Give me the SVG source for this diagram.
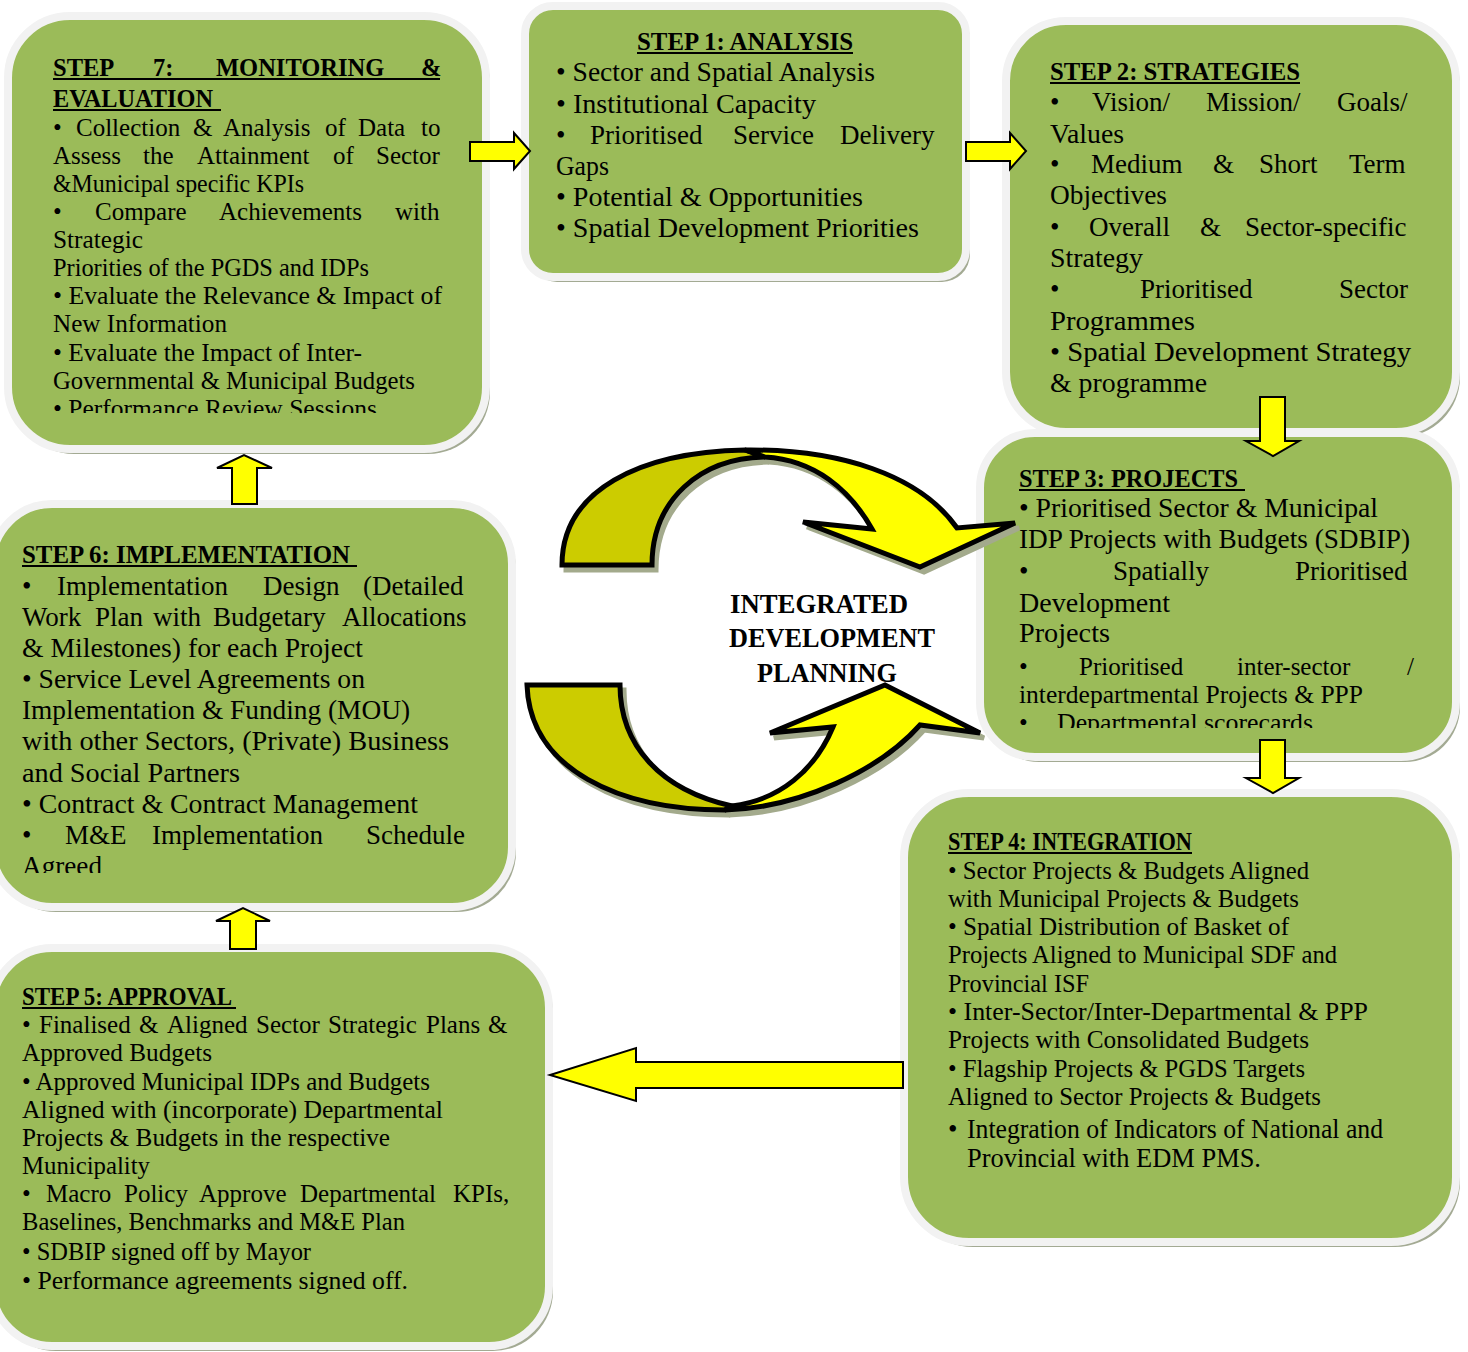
<svg xmlns="http://www.w3.org/2000/svg" width="1468" height="1352" viewBox="0 0 1468 1352">
<style>
.shadow{fill:#a3aa93}
.box{fill:#9bbb59;stroke:#f2f2f2;stroke-width:8}
text{font-family:"Liberation Serif","Times New Roman",serif;fill:#000}
.s27{font-size:27px}
.s25{font-size:25px}
.h{font-size:24.5px;font-weight:bold}
.c{font-size:27px;font-weight:bold}
.ul{stroke:#000;stroke-width:1.8}
.arrow{fill:#ffff00;stroke:#000;stroke-width:2;stroke-linejoin:miter}
.cyc{stroke:#000;stroke-width:5;stroke-linejoin:miter}
.cshadow{fill:#a3aa8c;stroke:#a3aa8c;stroke-width:5;stroke-linejoin:miter}
</style>
<defs>
<clipPath id="clip7"><rect x="0" y="0" width="500" height="413"/></clipPath>
<clipPath id="clip3"><rect x="980" y="430" width="480" height="298"/></clipPath>
<clipPath id="clip6"><rect x="0" y="500" width="520" height="373"/></clipPath>
</defs>

<!-- STEP 7 -->
<g id="step7">
<rect class="shadow" x="12" y="21" width="478" height="433" rx="62"/>
<rect class="box" x="8" y="16" width="478" height="433" rx="62"/>
<text class="h" y="76"><tspan x="53">STEP </tspan><tspan x="153">7: </tspan><tspan x="216">MONITORING </tspan><tspan x="421">&amp;</tspan></text>
<line class="ul" x1="53" y1="79" x2="440" y2="79"/>
<text class="h" x="53" y="107" textLength="160" lengthAdjust="spacingAndGlyphs">EVALUATION</text>
<line class="ul" x1="53" y1="110" x2="221" y2="110"/>
<g clip-path="url(#clip7)" class="s25">
<text class="s25" y="136"><tspan x="53">• </tspan><tspan x="76">Collection </tspan><tspan x="193">&amp; </tspan><tspan x="223">Analysis </tspan><tspan x="325">of </tspan><tspan x="358">Data </tspan><tspan x="421">to</tspan></text>
<text class="s25" y="164"><tspan x="53">Assess </tspan><tspan x="143">the </tspan><tspan x="197">Attainment </tspan><tspan x="333">of </tspan><tspan x="376">Sector</tspan></text>
<text class="s25" x="53" y="192" textLength="251" lengthAdjust="spacingAndGlyphs">&amp;Municipal specific KPIs</text>
<text class="s25" y="220"><tspan x="53">• </tspan><tspan x="95">Compare </tspan><tspan x="219">Achievements </tspan><tspan x="395">with</tspan></text>
<text class="s25" x="53" y="248" textLength="90" lengthAdjust="spacingAndGlyphs">Strategic</text>
<text class="s25" x="53" y="276" textLength="316" lengthAdjust="spacingAndGlyphs">Priorities of the PGDS and IDPs</text>
<text class="s25" x="53" y="304" textLength="389" lengthAdjust="spacingAndGlyphs">• Evaluate the Relevance &amp; Impact of</text>
<text class="s25" x="53" y="332" textLength="174" lengthAdjust="spacingAndGlyphs">New Information</text>
<text class="s25" x="53" y="361" textLength="309" lengthAdjust="spacingAndGlyphs">• Evaluate the Impact of Inter-</text>
<text class="s25" x="53" y="389" textLength="362" lengthAdjust="spacingAndGlyphs">Governmental &amp; Municipal Budgets</text>
<text class="s25" x="53" y="417" textLength="324" lengthAdjust="spacingAndGlyphs">• Performance Review Sessions</text>
</g>
</g>

<!-- STEP 1 -->
<g id="step1">
<rect class="shadow" x="529" y="11" width="441" height="271" rx="28"/>
<rect class="box" x="525" y="6" width="441" height="271" rx="28"/>
<text class="h" x="637" y="50" textLength="216" lengthAdjust="spacingAndGlyphs">STEP 1: ANALYSIS</text>
<line class="ul" x1="637" y1="53" x2="853" y2="53"/>
<text class="s27" x="556" y="81" textLength="319" lengthAdjust="spacingAndGlyphs">• Sector and Spatial Analysis</text>
<text class="s27" x="556" y="113" textLength="260" lengthAdjust="spacingAndGlyphs">• Institutional Capacity</text>
<text class="s27" y="144"><tspan x="556">• </tspan><tspan x="590">Prioritised </tspan><tspan x="733">Service </tspan><tspan x="840">Delivery</tspan></text>
<text class="s27" x="556" y="175" textLength="53" lengthAdjust="spacingAndGlyphs">Gaps</text>
<text class="s27" x="556" y="206" textLength="307" lengthAdjust="spacingAndGlyphs">• Potential &amp; Opportunities</text>
<text class="s27" x="556" y="237" textLength="363" lengthAdjust="spacingAndGlyphs">• Spatial Development Priorities</text>
</g>

<!-- STEP 2 -->
<g id="step2">
<rect class="shadow" x="1010" y="26" width="450" height="411" rx="60"/>
<rect class="box" x="1006" y="21" width="450" height="411" rx="60"/>
<text class="h" x="1050" y="80" textLength="250" lengthAdjust="spacingAndGlyphs">STEP 2: STRATEGIES</text>
<line class="ul" x1="1050" y1="83" x2="1300" y2="83"/>
<text class="s27" y="111"><tspan x="1050">• </tspan><tspan x="1092">Vision/ </tspan><tspan x="1206">Mission/ </tspan><tspan x="1337">Goals/</tspan></text>
<text class="s27" x="1050" y="143" textLength="74" lengthAdjust="spacingAndGlyphs">Values</text>
<text class="s27" y="173"><tspan x="1050">• </tspan><tspan x="1091">Medium </tspan><tspan x="1213">&amp; </tspan><tspan x="1259">Short </tspan><tspan x="1349">Term</tspan></text>
<text class="s27" x="1050" y="204" textLength="117" lengthAdjust="spacingAndGlyphs">Objectives</text>
<text class="s27" y="236"><tspan x="1050">• </tspan><tspan x="1089">Overall </tspan><tspan x="1200">&amp; </tspan><tspan x="1245">Sector-specific</tspan></text>
<text class="s27" x="1050" y="267" textLength="93" lengthAdjust="spacingAndGlyphs">Strategy</text>
<text class="s27" y="298"><tspan x="1050">• </tspan><tspan x="1140">Prioritised </tspan><tspan x="1339">Sector</tspan></text>
<text class="s27" x="1050" y="330" textLength="145" lengthAdjust="spacingAndGlyphs">Programmes</text>
<text class="s27" x="1050" y="361" textLength="361" lengthAdjust="spacingAndGlyphs">• Spatial Development Strategy</text>
<text class="s27" x="1050" y="392" textLength="157" lengthAdjust="spacingAndGlyphs">&amp; programme</text>
</g>

<!-- STEP 3 -->
<g id="step3">
<rect class="shadow" x="984" y="438" width="476" height="324" rx="55"/>
<rect class="box" x="980" y="433" width="476" height="324" rx="55"/>
<text class="h" x="1019" y="487" textLength="219" lengthAdjust="spacingAndGlyphs">STEP 3: PROJECTS</text>
<line class="ul" x1="1019" y1="490" x2="1245" y2="490"/>
<g clip-path="url(#clip3)">
<text class="s27" x="1019" y="517" textLength="359" lengthAdjust="spacingAndGlyphs">• Prioritised Sector &amp; Municipal</text>
<text class="s27" x="1019" y="548" textLength="391" lengthAdjust="spacingAndGlyphs">IDP Projects with Budgets (SDBIP)</text>
<text class="s27" y="580"><tspan x="1019">• </tspan><tspan x="1113">Spatially </tspan><tspan x="1295">Prioritised</tspan></text>
<text class="s27" x="1019" y="612" textLength="151" lengthAdjust="spacingAndGlyphs">Development</text>
<text class="s27" x="1019" y="642" textLength="91" lengthAdjust="spacingAndGlyphs">Projects</text>
<text class="s25" y="675"><tspan x="1019">• </tspan><tspan x="1079">Prioritised </tspan><tspan x="1237">inter-sector </tspan><tspan x="1407">/</tspan></text>
<text class="s25" x="1019" y="703" textLength="344" lengthAdjust="spacingAndGlyphs">interdepartmental Projects &amp; PPP</text>
<text class="s25" y="731"><tspan x="1019">• </tspan><tspan x="1057" textLength="256" lengthAdjust="spacingAndGlyphs">Departmental scorecards</tspan></text>
</g>
</g>

<!-- STEP 4 -->
<g id="step4">
<rect class="shadow" x="908" y="798" width="552" height="449" rx="65"/>
<rect class="box" x="904" y="793" width="552" height="449" rx="65"/>
<text class="h" x="948" y="850" textLength="244" lengthAdjust="spacingAndGlyphs">STEP 4: INTEGRATION</text>
<line class="ul" x1="948" y1="853" x2="1192" y2="853"/>
<text class="s25" x="948" y="879" textLength="361" lengthAdjust="spacingAndGlyphs">• Sector Projects &amp; Budgets Aligned</text>
<text class="s25" x="948" y="907" textLength="351" lengthAdjust="spacingAndGlyphs">with Municipal Projects &amp; Budgets</text>
<text class="s25" x="948" y="935" textLength="341" lengthAdjust="spacingAndGlyphs">• Spatial Distribution of Basket of</text>
<text class="s25" x="948" y="963" textLength="389" lengthAdjust="spacingAndGlyphs">Projects Aligned to Municipal SDF and</text>
<text class="s25" x="948" y="992" textLength="141" lengthAdjust="spacingAndGlyphs">Provincial ISF</text>
<text class="s25" x="948" y="1020" textLength="420" lengthAdjust="spacingAndGlyphs">• Inter-Sector/Inter-Departmental &amp; PPP</text>
<text class="s25" x="948" y="1048" textLength="361" lengthAdjust="spacingAndGlyphs">Projects with Consolidated Budgets</text>
<text class="s25" x="948" y="1077" textLength="357" lengthAdjust="spacingAndGlyphs">• Flagship Projects &amp; PGDS Targets</text>
<text class="s25" x="948" y="1105" textLength="373" lengthAdjust="spacingAndGlyphs">Aligned to Sector Projects &amp; Budgets</text>
<text class="s27" y="1138"><tspan x="948">• </tspan><tspan x="967" textLength="416" lengthAdjust="spacingAndGlyphs">Integration of Indicators of National and</tspan></text>
<text class="s27" x="967" y="1167" textLength="294" lengthAdjust="spacingAndGlyphs">Provincial with EDM PMS.</text>
</g>

<!-- STEP 5 -->
<g id="step5">
<rect class="shadow" x="-4" y="953" width="557" height="398" rx="60"/>
<rect class="box" x="-8" y="948" width="557" height="398" rx="60"/>
<text class="h" x="22" y="1005" textLength="210" lengthAdjust="spacingAndGlyphs">STEP 5: APPROVAL</text>
<line class="ul" x1="22" y1="1008" x2="236" y2="1008"/>
<text class="s25" y="1033"><tspan x="22">• </tspan><tspan x="39">Finalised </tspan><tspan x="139">&amp; </tspan><tspan x="167">Aligned </tspan><tspan x="256">Sector </tspan><tspan x="328">Strategic </tspan><tspan x="426">Plans </tspan><tspan x="488">&amp;</tspan></text>
<text class="s25" x="22" y="1061" textLength="190" lengthAdjust="spacingAndGlyphs">Approved Budgets</text>
<text class="s25" x="22" y="1090" textLength="408" lengthAdjust="spacingAndGlyphs">• Approved Municipal IDPs and Budgets</text>
<text class="s25" x="22" y="1118" textLength="421" lengthAdjust="spacingAndGlyphs">Aligned with (incorporate) Departmental</text>
<text class="s25" x="22" y="1146" textLength="368" lengthAdjust="spacingAndGlyphs">Projects &amp; Budgets in the respective</text>
<text class="s25" x="22" y="1174" textLength="128" lengthAdjust="spacingAndGlyphs">Municipality</text>
<text class="s25" y="1202"><tspan x="22">• </tspan><tspan x="46">Macro </tspan><tspan x="124">Policy </tspan><tspan x="199">Approve </tspan><tspan x="300">Departmental </tspan><tspan x="453">KPIs,</tspan></text>
<text class="s25" x="22" y="1230" textLength="383" lengthAdjust="spacingAndGlyphs">Baselines, Benchmarks and M&amp;E Plan</text>
<text class="s25" x="22" y="1260" textLength="289" lengthAdjust="spacingAndGlyphs">• SDBIP signed off by Mayor</text>
<text class="s25" x="22" y="1289" textLength="386" lengthAdjust="spacingAndGlyphs">• Performance agreements signed off.</text>
</g>

<!-- STEP 6 -->
<g id="step6">
<rect class="shadow" x="-4" y="509" width="520" height="403" rx="60"/>
<rect class="box" x="-8" y="504" width="520" height="403" rx="60"/>
<text class="h" x="22" y="563" textLength="328" lengthAdjust="spacingAndGlyphs">STEP 6: IMPLEMENTATION</text>
<line class="ul" x1="22" y1="566" x2="357" y2="566"/>
<g clip-path="url(#clip6)">
<text class="s27" y="595"><tspan x="22">• </tspan><tspan x="57">Implementation </tspan><tspan x="263">Design </tspan><tspan x="363">(Detailed</tspan></text>
<text class="s27" y="626"><tspan x="22">Work </tspan><tspan x="95">Plan </tspan><tspan x="153">with </tspan><tspan x="213">Budgetary </tspan><tspan x="342">Allocations</tspan></text>
<text class="s27" x="22" y="657" textLength="341" lengthAdjust="spacingAndGlyphs">&amp; Milestones) for each Project</text>
<text class="s27" x="22" y="688" textLength="343" lengthAdjust="spacingAndGlyphs">• Service Level Agreements on</text>
<text class="s27" x="22" y="719" textLength="388" lengthAdjust="spacingAndGlyphs">Implementation &amp; Funding (MOU)</text>
<text class="s27" x="22" y="750" textLength="427" lengthAdjust="spacingAndGlyphs">with other Sectors, (Private) Business</text>
<text class="s27" x="22" y="782" textLength="218" lengthAdjust="spacingAndGlyphs">and Social Partners</text>
<text class="s27" x="22" y="813" textLength="396" lengthAdjust="spacingAndGlyphs">• Contract &amp; Contract Management</text>
<text class="s27" y="844"><tspan x="22">• </tspan><tspan x="65">M&amp;E </tspan><tspan x="152">Implementation </tspan><tspan x="366">Schedule</tspan></text>
<text class="s27" x="22" y="875" textLength="80" lengthAdjust="spacingAndGlyphs">Agreed</text>
</g>
</g>

<!-- central cycle -->
<g id="cycle">
<g transform="translate(4,5)">
<path class="cshadow" d="M562,565 C562,490 640,452 745,450 L765,457 C700,458 652,500 652,565 Z"/>
<path class="cshadow" d="M745,450 C840,449 920,475 957,528 L1015,523 L920,567 L803,522 L872,529 C850,490 815,460 765,457 Z"/>
<path class="cshadow" d="M527,685 L620,685 C620,745 660,790 732,806 L725,810 C620,810 530,770 527,685 Z"/>
<path class="cshadow" d="M725,810 C800,808 880,770 920,725 L980,733 L885,685 L770,733 L833,727 C815,770 780,800 732,806 Z"/>
</g>
<path class="cyc" fill="#cccc00" d="M562,565 C562,490 640,452 745,450 L765,457 C700,458 652,500 652,565 Z"/>
<path class="cyc" fill="#ffff00" d="M745,450 C840,449 920,475 957,528 L1015,523 L920,567 L803,522 L872,529 C850,490 815,460 765,457 Z"/>
<path class="cyc" fill="#cccc00" d="M527,685 L620,685 C620,745 660,790 732,806 L725,810 C620,810 530,770 527,685 Z"/>
<path class="cyc" fill="#ffff00" d="M725,810 C800,808 880,770 920,725 L980,733 L885,685 L770,733 L833,727 C815,770 780,800 732,806 Z"/>
<text class="c" x="730" y="613" textLength="178" lengthAdjust="spacingAndGlyphs">INTEGRATED</text>
<text class="c" x="729" y="647" textLength="206" lengthAdjust="spacingAndGlyphs">DEVELOPMENT</text>
<text class="c" x="757" y="682" textLength="140" lengthAdjust="spacingAndGlyphs">PLANNING</text>
</g>

<!-- connectors -->
<g id="connectors">
<path class="arrow" d="M470,142 H514 V133 L530,151 L514,169 V161 H470 Z"/>
<path class="arrow" d="M966,142 H1010 V133 L1026,151 L1010,169 V161 H966 Z"/>
<path class="arrow" d="M1260,397 H1285 V441 H1299 L1273,456 L1246,441 H1260 Z"/>
<path class="arrow" d="M1260,740 H1285 V778 H1299 L1273,793 L1246,778 H1260 Z"/>
<path class="arrow" d="M903,1062 H636 V1048 L550,1075 L636,1101 V1088 H903 Z"/>
<path class="arrow" d="M230,949 V921 H216 L243,908 L270,921 H256 V949 Z"/>
<path class="arrow" d="M232,504 V468 H217 L244,455 L272,468 H257 V504 Z"/>
</g>
</svg>
